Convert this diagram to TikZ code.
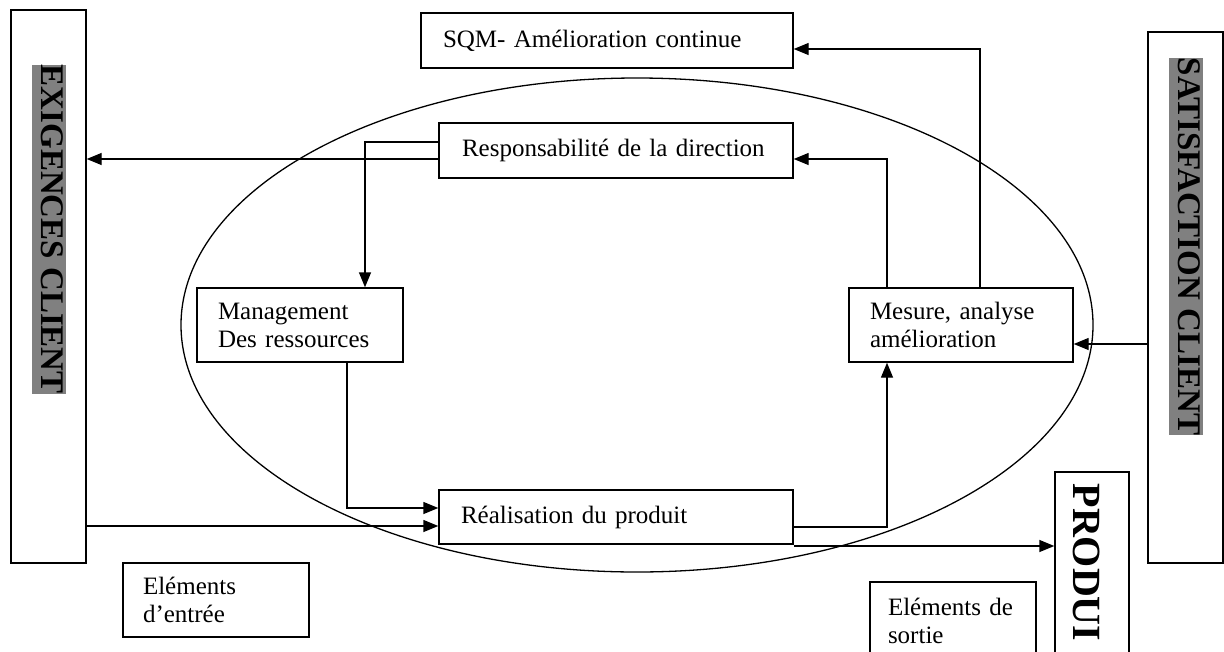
\documentclass[tikz,border=0pt]{standalone}
\usepackage{fontspec}
\setmainfont{Liberation Serif}
\usetikzlibrary{arrows.meta,shapes.geometric}
\begin{document}
\begin{tikzpicture}[x=1pt,y=-1pt,
  line width=1.3pt,
  bx/.style={draw, line width=1.4pt, fill=white, rectangle, inner ysep=0pt,
    align=left, font=\fontsize{25}{28}\selectfont},
  sidebox/.style={draw, line width=1.4pt, fill=white, rectangle, inner sep=0pt},
  vlabel/.style={rotate=-90, anchor=west, fill=black!50, inner sep=0pt,
    text height=25pt, text depth=9pt, font=\bfseries\fontsize{33}{33}\selectfont},
  arr/.style={-{Triangle[length=15pt,width=12pt]}, line width=1.4pt},
]
\useasboundingbox (0,0) rectangle (1224,651);
\clip (0,0) rectangle (1224,651);

% process loop
\node[ellipse, draw, line width=1.3pt, minimum width=912pt, minimum height=494pt,
  inner sep=0pt] (loop) at (637,325) {};

% customer side columns
\node[sidebox, minimum width=75pt, minimum height=553pt] (exig) at (48.5,286.5) {};
\node[vlabel] (exigtxt) at (49,64) {EXIGENCES CLIENT};
\node[sidebox, minimum width=75pt, minimum height=531pt] (satis) at (1185.5,297.5) {};
\node[vlabel] (satistxt) at (1186,57) {SATISFACTION CLIENT};
\node[sidebox, minimum width=74pt, minimum height=208pt] (produi) at (1092,576) {};
\node[rotate=-90, anchor=base west, inner sep=0pt,
  font=\bfseries\fontsize{40}{40}\selectfont] (produitxt) at (1073,483) {PRODUI};

% process boxes
\node[bx, inner xsep=22pt, text width=328pt, minimum height=55pt] (sqm) at (607,40.5)
  {SQM- Amélioration continue};
\node[bx, inner xsep=23pt, text width=308pt, minimum height=55pt] (resp) at (616,150.5)
  {Responsabilité de la direction};
\node[bx, inner xsep=21pt, text width=164pt, minimum height=74pt] (mgmt) at (300,325)
  {Management\\Des ressources};
\node[bx, inner xsep=21pt, text width=182pt, minimum height=74pt] (mes) at (961,325)
  {Mesure, analyse\\amélioration};
\node[bx, inner xsep=22pt, text width=310pt, minimum height=54pt] (real) at (616,517)
  {Réalisation du produit};
\node[bx, inner xsep=20pt, text width=146pt, minimum height=74pt] (entree) at (216,600)
  {Eléments\\d’entrée};
\node[bx, inner xsep=18pt, text width=130pt, minimum height=78pt] (sortie) at (953,621)
  {Eléments de\\sortie};

% connectors
\draw[arr] (resp.west |- 0,159) -- (exig.east |- 0,159);
\draw[arr] (resp.west |- 0,142) -| (mgmt.north -| 365,0);
\draw[arr] (mgmt.south -| 347,0) |- (real.west |- 0,508);
\draw[arr] (exig.east |- 0,526) -- (real.west |- 0,526);
\draw[arr] (real.east |- 0,527) -| (mes.south -| 887,0);
\draw[arr] (real.east |- 0,546) -- (produi.west |- 0,546);
\draw[arr] (satis.west |- 0,344) -- (mes.east |- 0,344);
\draw[arr] (mes.north -| 887,0) |- (resp.east |- 0,159);
\draw[arr] (mes.north -| 980,0) |- (sqm.east |- 0,49);
\end{tikzpicture}
\end{document}
